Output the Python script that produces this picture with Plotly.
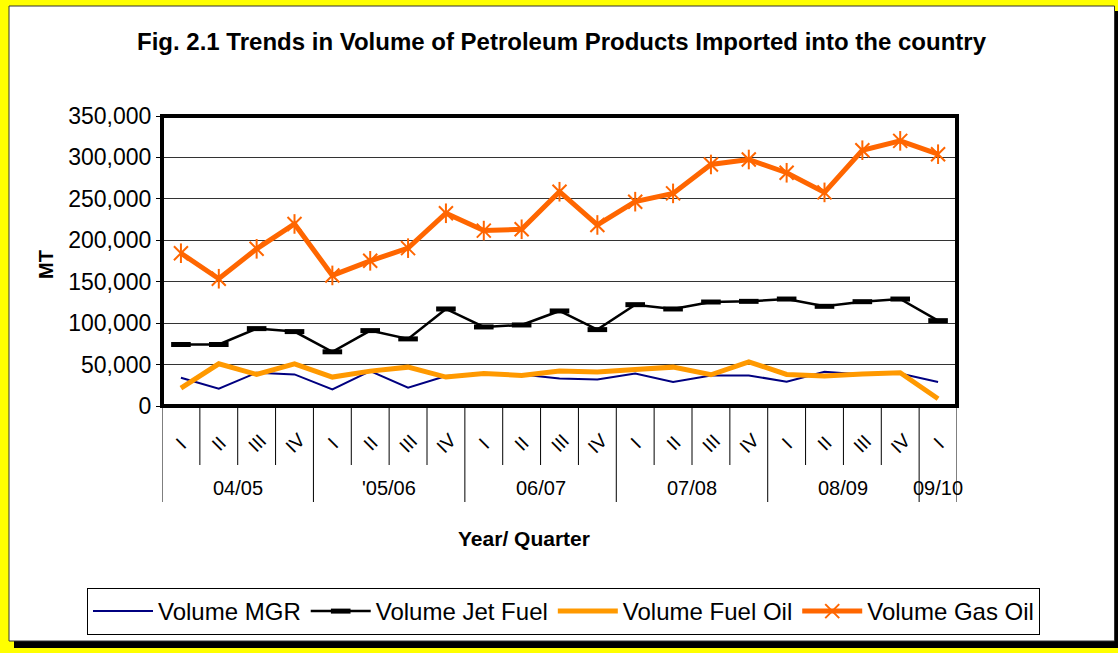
import plotly.graph_objects as go

# ---------------- data ----------------
year_groups = ["04/05", "'05/06", "06/07", "07/08", "08/09", "09/10"]
quarters_per_year = [4, 4, 4, 4, 4, 1]
quarter_labels = ["I", "II", "III", "IV", "I", "II", "III", "IV", "I", "II", "III", "IV",
                  "I", "II", "III", "IV", "I", "II", "III", "IV", "I"]

volume_mgr = [34100, 20900, 40100, 38100, 20000, 42100, 22100, 36100, 38500, 38100, 33300,
              32100, 39300, 28900, 36900, 36900, 29300, 41300, 38100, 39300, 28900]
volume_jet_fuel = [74200, 74200, 93400, 89800, 65400, 91000, 81000, 117100, 95400, 97800, 114700,
                   92200, 122300, 117100, 125500, 126300, 129100, 120300, 125900, 129100, 103000]
volume_fuel_oil = [21700, 50900, 38100, 50900, 34900, 42100, 46900, 34900, 39300, 36900, 42100,
                   40900, 44100, 46900, 37700, 53300, 38100, 36100, 38500, 40100, 8800]
volume_gas_oil = [184400, 153600, 189700, 219700, 157600, 175200, 190500, 232600, 211700, 213300, 258600,
                  218500, 246600, 256600, 291500, 297500, 281500, 257800, 308700, 320000, 303900]

# ---------------- layout geometry ----------------
W, H = 1118, 653
L, R, T, B = 162, 957, 116, 406          # plot area in pixels
PW, PH = R - L, B - T

def px(x):
    return (x - L) / PW

def py(y):
    return (B - y) / PH

FONT = "Liberation Sans, Arial, sans-serif"

year_of_point = []
for yg, n in zip(year_groups, quarters_per_year):
    year_of_point += [yg] * n
cats = [f"{y} {q} #{i}" for i, (y, q) in enumerate(zip(year_of_point, quarter_labels))]

fig = go.Figure()
fig.add_trace(go.Scatter(x=cats, y=volume_mgr, mode="lines", name="Volume MGR",
                         line=dict(color="#000080", width=2)))
fig.add_trace(go.Scatter(x=cats, y=volume_jet_fuel, mode="lines+markers", name="Volume Jet Fuel",
                         line=dict(color="#000000", width=2.5),
                         marker=dict(symbol="line-ew", size=14,
                                     line=dict(color="#000000", width=5))))
fig.add_trace(go.Scatter(x=cats, y=volume_fuel_oil, mode="lines", name="Volume Fuel Oil",
                         line=dict(color="#FF9900", width=5)))
fig.add_trace(go.Scatter(x=cats, y=volume_gas_oil, mode="lines+markers", name="Volume Gas Oil",
                         line=dict(color="#FF6600", width=5),
                         marker=dict(symbol="x-thin-open", size=14, color="#FF6600",
                                     line=dict(color="#FF6600", width=2))))
fig.add_trace(go.Scatter(x=cats, y=volume_gas_oil, mode="markers", showlegend=False,
                         hoverinfo="skip",
                         marker=dict(symbol="line-ns-open", size=14, color="#FF6600",
                                     line=dict(color="#FF6600", width=2))))

shapes = []
shapes.append(dict(type="rect", xref="paper", yref="paper", layer="below",
                   x0=px(14), x1=px(1119), y0=py(11), y1=py(648),
                   fillcolor="#000000", line=dict(width=0)))
shapes.append(dict(type="rect", xref="paper", yref="paper", layer="below",
                   x0=px(9), x1=px(1114.5), y0=py(6), y1=py(641),
                   fillcolor="#FFFFFF", line=dict(color="#333333", width=1)))
shapes.append(dict(type="rect", xref="paper", yref="paper", layer="above",
                   x0=0, x1=1, y0=0, y1=1, line=dict(color="#000000", width=4)))

pos = -0.5
for n in quarters_per_year:
    shapes.append(dict(type="line", xref="x", yref="paper", x0=pos, x1=pos,
                       y0=0, y1=py(502), line=dict(color="#000000", width=1)))
    for k in range(1, n):
        xx = pos + k
        shapes.append(dict(type="line", xref="x", yref="paper", x0=xx, x1=xx,
                           y0=0, y1=py(465), line=dict(color="#000000", width=1)))
    pos += n
shapes.append(dict(type="line", xref="x", yref="paper", x0=pos, x1=pos,
                   y0=0, y1=py(502), line=dict(color="#000000", width=1)))

annotations = []
for i, q in enumerate(quarter_labels):
    annotations.append(dict(x=i, y=py(443), xref="x", yref="paper", text=q, showarrow=False,
                            textangle=-45, xanchor="center", yanchor="middle",
                            font=dict(family=FONT, size=19, color="#000000")))
start = 0
for yg, n in zip(year_groups, quarters_per_year):
    annotations.append(dict(x=start + (n - 1) / 2, y=py(488), xref="x", yref="paper", text=yg,
                            showarrow=False, xanchor="center", yanchor="middle",
                            font=dict(family=FONT, size=20, color="#000000")))
    start += n
annotations.append(dict(x=px(562), y=py(42), xref="paper", yref="paper",
                        text="<b>Fig. 2.1 Trends in Volume of Petroleum Products Imported into the country</b>",
                        showarrow=False, xanchor="center", yanchor="middle",
                        font=dict(family=FONT, size=24, color="#000000")))
annotations.append(dict(x=px(524), y=py(538), xref="paper", yref="paper",
                        text="<b>Year/ Quarter</b>", showarrow=False,
                        xanchor="center", yanchor="middle",
                        font=dict(family=FONT, size=21, color="#000000")))
annotations.append(dict(x=px(46), y=py(265), xref="paper", yref="paper",
                        text="<b>MT</b>", showarrow=False, textangle=-90,
                        xanchor="center", yanchor="middle",
                        font=dict(family=FONT, size=20, color="#000000")))

fig.update_layout(
    width=W, height=H,
    margin=dict(l=L, r=W - R, t=T, b=H - B, pad=0, autoexpand=False),
    paper_bgcolor="#FFFF00",
    plot_bgcolor="#FFFFFF",
    font=dict(family=FONT, color="#000000"),
    showlegend=True,
    legend=dict(orientation="h", x=px(87), xanchor="left", y=py(588), yanchor="top",
                bgcolor="#FFFFFF", bordercolor="#000000", borderwidth=1,
                font=dict(family=FONT, size=24, color="#000000"),
                itemwidth=60, tracegroupgap=0),
    shapes=shapes,
    annotations=annotations,
    xaxis=dict(type="category", categoryorder="array", categoryarray=cats,
               range=[-0.5, len(cats) - 0.5], showticklabels=False, ticks="",
               showgrid=False, zeroline=False, showline=False, fixedrange=True),
    yaxis=dict(range=[0, 350000], dtick=50000, tickformat=",", ticks="outside",
               ticklen=5, tickcolor="#000000", tickwidth=1,
               showgrid=True, gridcolor="#333333", gridwidth=1,
               zeroline=False, showline=False, fixedrange=True,
               tickfont=dict(family=FONT, size=23, color="#000000")),
)

fig.write_html("out.html", config={"displayModeBar": False},
               post_script="document.body.style.margin='0';document.body.style.padding='0';")
